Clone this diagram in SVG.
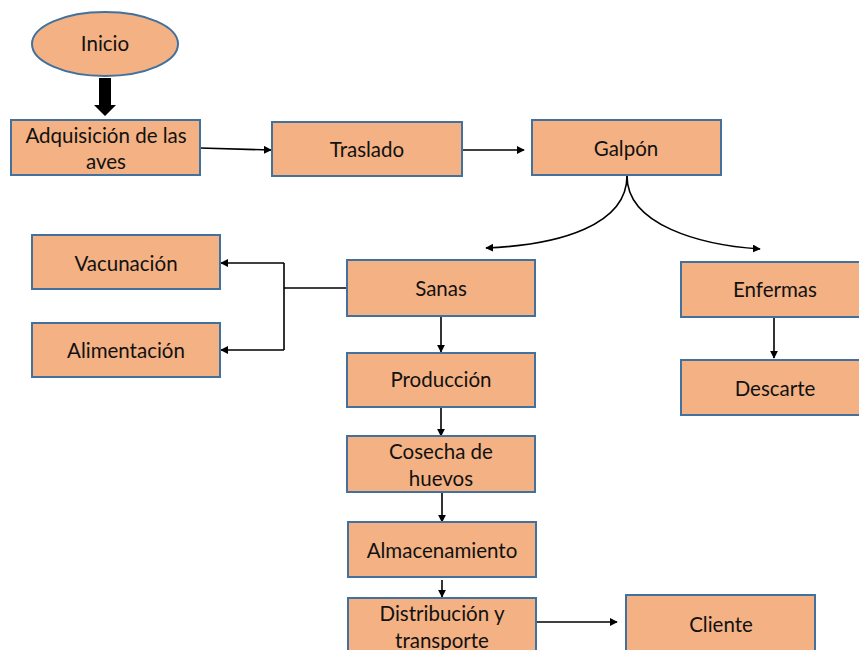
<svg xmlns="http://www.w3.org/2000/svg" width="859" height="650" viewBox="0 0 859 650">
<defs>
<style>
.n{fill:#F4B183;stroke:#41719C;stroke-width:2}
.t{font-family:Lato,"Open Sans","Liberation Sans",sans-serif;font-size:20.5px;fill:#111;text-anchor:middle;dominant-baseline:central}
.c{fill:none;stroke:#000;stroke-width:1.6}
</style>
<marker id="a" viewBox="0 0 10 10" refX="9" refY="5" markerWidth="8" markerHeight="8" markerUnits="userSpaceOnUse" orient="auto">
<path d="M0,0 L10,5 L0,10 z" fill="#000"/>
</marker>
</defs>
<rect width="859" height="650" fill="#fff"/>
<g id="connectors">
<path d="M99,78 H111 V105 H116 L105,116 L94,105 H99 Z" fill="#000"/>
<path class="c" d="M200,148 L271,150" marker-end="url(#a)"/>
<path class="c" d="M462,150 L524,150" marker-end="url(#a)"/>
<path class="c" d="M627,176 C627,225 560,245 486,248" marker-end="url(#a)"/>
<path class="c" d="M627,176 C627,225 700,245 760,249" marker-end="url(#a)"/>
<path class="c" d="M347,288 H284"/>
<path class="c" d="M284,263 V350"/>
<path class="c" d="M284,263 H221" marker-end="url(#a)"/>
<path class="c" d="M284,350 H221" marker-end="url(#a)"/>
<path class="c" d="M441,316 V352" marker-end="url(#a)"/>
<path class="c" d="M441,407 V436" marker-end="url(#a)"/>
<path class="c" d="M442,493 V522" marker-end="url(#a)"/>
<path class="c" d="M442,580 V597" marker-end="url(#a)"/>
<path class="c" d="M536,622 L617,622" marker-end="url(#a)"/>
<path class="c" d="M774,317 V358" marker-end="url(#a)"/>
</g>
<g id="inicio"><ellipse class="n" cx="105" cy="44" rx="73" ry="32"/><text class="t" x="105" y="43">Inicio</text></g>
<g id="adquisicion"><rect class="n" x="11" y="120" width="189" height="55"/><text class="t" x="106" y="135">Adquisición de las</text><text class="t" x="106" y="161">aves</text></g>
<g id="traslado"><rect class="n" x="272" y="122" width="190" height="54"/><text class="t" x="367" y="149">Traslado</text></g>
<g id="galpon"><rect class="n" x="532" y="120" width="189" height="55"/><text class="t" x="626" y="148">Galpón</text></g>
<g id="vacunacion"><rect class="n" x="32" y="235" width="188" height="54"/><text class="t" x="126" y="263">Vacunación</text></g>
<g id="alimentacion"><rect class="n" x="32" y="323" width="188" height="54"/><text class="t" x="126" y="350">Alimentación</text></g>
<g id="sanas"><rect class="n" x="347" y="260" width="188" height="56"/><text class="t" x="441" y="288">Sanas</text></g>
<g id="produccion"><rect class="n" x="347" y="353" width="188" height="54"/><text class="t" x="441" y="379">Producción</text></g>
<g id="cosecha"><rect class="n" x="347" y="436" width="188" height="56"/><text class="t" x="441" y="451">Cosecha de</text><text class="t" x="441" y="478">huevos</text></g>
<g id="almacenamiento"><rect class="n" x="348" y="522" width="188" height="55"/><text class="t" x="442" y="550">Almacenamiento</text></g>
<g id="distribucion"><rect class="n" x="348" y="598" width="188" height="60"/><text class="t" x="442" y="613">Distribución y</text><text class="t" x="442" y="640">transporte</text></g>
<g id="cliente"><rect class="n" x="626" y="595" width="189" height="63"/><text class="t" x="721" y="624">Cliente</text></g>
<g id="enfermas"><rect class="n" x="681" y="262" width="185" height="55"/><text class="t" x="775" y="289">Enfermas</text></g>
<g id="descarte"><rect class="n" x="681" y="360" width="185" height="55"/><text class="t" x="775" y="388">Descarte</text></g>
</svg>
